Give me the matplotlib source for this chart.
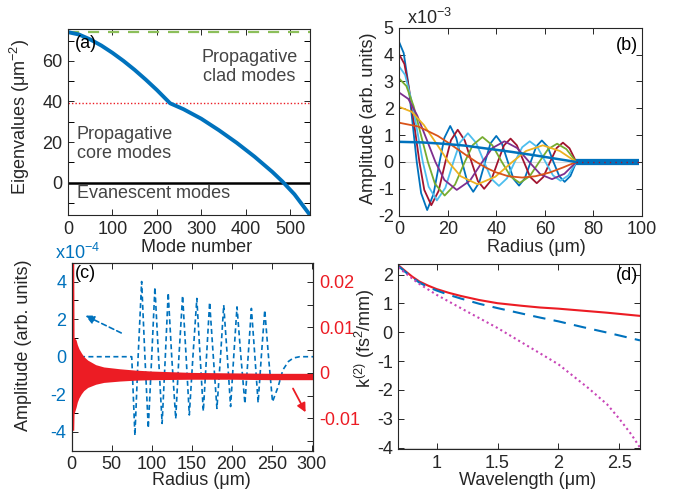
import numpy as np
import matplotlib
matplotlib.use("Agg")
from matplotlib import pyplot as plt
from matplotlib.ticker import MultipleLocator

plt.rcParams['font.family'] = ['Liberation Sans', 'DejaVu Sans']
plt.rcParams['mathtext.fontset'] = 'custom'
plt.rcParams['mathtext.rm'] = 'Liberation Sans'
plt.rcParams['mathtext.it'] = 'Liberation Sans:italic'
plt.rcParams['axes.unicode_minus'] = False
plt.rcParams['font.size'] = 13

BLUE = '#0072BD'
ORANGE = '#D95319'
YELLOW = '#EDB120'
PURPLE = '#7E2F8E'
GREEN = '#77AC30'
CYAN = '#4DBEEE'
DARKRED = '#A2142F'
RED = '#EC1C24'
TXT = '#262626'

# ---- (a) eigenvalues vs mode number
mode_n = [0, 25, 50, 75, 100, 125, 150, 175, 200, 215, 230, 260, 300, 340, 380, 420, 460, 483, 510, 545]
eig_val = [74.2, 73.0, 70.6, 67.6, 64.0, 60.0, 55.6, 50.8, 45.7, 42.4, 39.1, 36.2, 31.5, 25.8, 19.6, 12.8, 5.3, 0.5, -5.8, -16.0]
clad_level = 74.2
core_level = 39.0

# ---- (b) radial mode profiles (x1e-3)
r1 = [0, 9, 18, 27, 36, 46, 55, 64, 73]
v1 = [0.75, 0.73, 0.68, 0.61, 0.50, 0.38, 0.26, 0.13, 0]
r2 = [0, 7.9, 15.9, 19.8, 23.8, 27.8, 31.8, 35.7, 39.7, 44.9, 50.7, 56.2, 62.1, 67.4, 73]
v2 = [1.46, 1.32, 0.97, 0.74, 0.49, 0.24, 0, -0.21, -0.38, -0.53, -0.58, -0.53, -0.39, -0.21, 0]
r3 = [0, 5.1, 10.1, 15.2, 20.3, 25.3, 32.3, 39.6, 46.6, 52.3, 59.2, 66.2, 73]
v3 = [2.05, 1.87, 1.38, 0.70, 0, -0.53, -0.83, -0.55, 0, 0.41, 0.62, 0.41, 0]
r4 = [0, 3.7, 7.4, 11.1, 14.9, 18.6, 23.7, 29.1, 34.2, 38.4, 43.4, 48.6, 53.6, 58.2, 63.0, 68.1, 73]
v4 = [2.58, 2.35, 1.73, 0.88, 0, -0.67, -1.04, -0.70, 0, 0.52, 0.77, 0.52, 0, -0.46, -0.64, -0.44, 0]
r5 = [0, 2.9, 5.9, 8.8, 11.8, 14.7, 18.7, 23.0, 27.0, 30.3, 34.3, 38.4, 42.3, 46.0, 49.7, 53.8, 57.7, 61.4, 65.1, 68.9, 73]
v5 = [3.1, 2.83, 2.08, 1.05, 0, -0.81, -1.25, -0.84, 0, 0.63, 0.93, 0.62, 0, -0.55, -0.78, -0.53, 0, 0.48, 0.68, 0.48, 0]
r6 = [0, 2.4, 4.8, 7.3, 9.7, 12.1, 15.5, 19.0, 22.3, 25.0, 28.3, 31.7, 35.0, 38.0, 41.1, 44.4, 47.6, 50.7,
      53.8, 57.0, 60.3, 63.4, 66.5, 69.7, 73]
v6 = [3.55, 3.24, 2.38, 1.21, 0, -0.92, -1.43, -0.96, 0, 0.72, 1.07, 0.71, 0, -0.63, -0.89, -0.61, 0, 0.55,
      0.77, 0.55, 0, -0.50, -0.70, -0.50, 0]
r7 = [0, 2.1, 4.1, 6.2, 8.3, 10.3, 13.2, 16.2, 19.0, 21.3, 24.1, 27.0, 29.8, 32.4, 35.0, 37.9, 40.6, 43.2,
      45.9, 48.5, 51.4, 54.0, 56.7, 59.4, 62.2, 64.9, 67.5, 70.2, 73]
v7 = [4.0, 3.65, 2.68, 1.36, 0, -1.04, -1.61, -1.08, 0, 0.81, 1.20, 0.80, 0, -0.71, -1.00, -0.68, 0, 0.62,
      0.87, 0.62, 0, -0.56, -0.79, -0.56, 0, 0.52, 0.72, 0.51, 0]
r8 = [0, 1.8, 3.6, 5.4, 7.2, 9.0, 11.5, 14.1, 16.6, 18.6, 21.0, 23.5, 25.9, 28.2, 30.5, 33.0, 35.4, 37.6,
      40.0, 42.3, 44.8, 47.1, 49.4, 51.7, 54.2, 56.5, 58.8, 61.2, 63.6, 66.0, 68.2, 70.6, 73]
v8 = [4.45, 4.06, 2.99, 1.51, 0, -1.16, -1.79, -1.20, 0, 0.90, 1.34, 0.89, 0, -0.79, -1.11, -0.76, 0, 0.69,
      0.97, 0.69, 0, -0.63, -0.88, -0.62, 0, 0.58, 0.80, 0.57, 0, -0.53, -0.74, -0.52, 0]
clad_r = [73, 99]
clad_v = [0, 0]

# ---- (c) cladding mode (blue, x1e-4) and its field (red, right axis)
c_r = [0, 75, 79, 83, 87.4, 91.5, 95.7, 100, 104, 108.5, 113, 117, 120.6, 125, 130, 134, 138.6, 143,
       147, 151.5, 156.4, 160.5, 164.5, 168.5, 172.4, 177, 181.5, 186, 190, 194.5, 198.6, 202.5, 206.6,
       211.5, 216.5, 220.5, 224.6, 229, 233, 237, 241.3, 246, 251, 258, 264, 271, 277, 285, 302]
c_amp = [0, 0, -4.2, 0, 4.0, 0, -3.8, 0, 3.7, 0, -3.55, 0, 3.4, 0, -3.3, 0, 3.25, 0,
         -3.1, 0, 3.1, 0, -2.9, 0, 2.9, 0, -2.75, 0, 2.75, 0, -2.65, 0, 2.65,
         0, -2.5, 0, 2.57, 0, -2.45, 0, 2.48, 0, -2.4, -1.6, -0.7, -0.25, -0.07, 0, 0]
env_r = [0, 2.5, 2.9, 5.5, 7, 9, 12, 15, 20, 30, 40, 60, 80, 100, 150, 200, 250, 302]
env_hi = [0.025, 0.025, 0.0078, 0.0072, 0.0062, 0.0053, 0.0044, 0.0036, 0.0028, 0.0018, 0.0013,
          0.0009, 0.0006, 0.0004, 0.0001, 0.0, -0.0001, -0.0001]
env_lo = [-0.0126, -0.0126, -0.0090, -0.0075, -0.0064, -0.0055, -0.0046, -0.0039, -0.0032, -0.0025,
          -0.0021, -0.0018, -0.0016, -0.0015, -0.0014, -0.0014, -0.0015, -0.0015]

# ---- (d) dispersion
wl_a = [0.685, 0.75, 0.8, 0.86, 0.93, 1.0, 1.1, 1.2, 1.35, 1.5, 1.7, 1.85, 2.0, 2.2, 2.4, 2.67]
k2_red = [2.33, 2.10, 1.93, 1.76, 1.62, 1.50, 1.37, 1.26, 1.12, 1.01, 0.92, 0.86, 0.82, 0.75, 0.68, 0.57]
k2_blue = [2.30, 2.07, 1.90, 1.72, 1.57, 1.45, 1.30, 1.17, 0.99, 0.84, 0.65, 0.51, 0.38, 0.18, -0.01, -0.28]
wl_b = [0.685, 0.85, 1.0, 1.25, 1.5, 1.75, 2.0, 2.25, 2.4, 2.5, 2.6, 2.67]
k2_mag = [2.25, 1.70, 1.30, 0.72, 0.15, -0.48, -1.11, -1.95, -2.5, -3.0, -3.55, -4.0]


def style(ax):
    ax.tick_params(direction='in', top=True, right=True, length=4, width=0.7,
                   colors=TXT, labelsize=13, pad=4)
    ax.tick_params(which='minor', direction='in', top=True, right=True, length=4, width=0.7)
    for s in ax.spines.values():
        s.set_color(TXT)
        s.set_linewidth(0.8)


fig = plt.figure(figsize=(6.93, 4.93), dpi=100)

# (a)
ax = fig.add_axes([0.0981, 0.5639, 0.3492, 0.3767])
ax.axhline(clad_level, color='#8cbf5a', lw=1.6, ls=(0, (5, 4)))
ax.axhline(core_level, color=RED, lw=1.0, ls=(0, (1, 1.5)))
ax.axhline(0, color='black', lw=1.8)
ax.plot(mode_n, eig_val, color=BLUE, lw=2.8, solid_capstyle='butt')
ax.set_xlim(0, 545)
ax.set_ylim(-16, 75.6)
ax.xaxis.set_major_locator(MultipleLocator(100))
ax.yaxis.set_major_locator(MultipleLocator(20))
ax.yaxis.set_minor_locator(MultipleLocator(10))
style(ax)
ax.set_xlabel('Mode number', color=TXT)
ax.set_ylabel('Eigenvalues (μm$^{-2}$)', color=TXT)
ax.xaxis.set_label_coords(0.53, -0.128)
ax.yaxis.set_label_coords(-0.149, 0.53)
ax.text(0.029, 0.925, '(a)', transform=ax.transAxes, va='center', ha='left', color='black')
ax.text(408, 57, 'Propagative\nclad modes', ha='center', va='center', color='#444444', linespacing=1.1)
ax.text(20, 19, 'Propagative\ncore modes', ha='left', va='center', color='#444444', linespacing=1.1)
ax.text(20, -5.2, 'Evanescent modes', ha='left', va='center', color='#444444')

# (b)
ax = fig.add_axes([0.5762, 0.5625, 0.3498, 0.3813])
ax.axhline(0, color='#d9d9d9', lw=0.8, zorder=0)
profiles = [(r8, v8, BLUE), (r7, v7, DARKRED), (r6, v6, CYAN), (r5, v5, GREEN),
            (r4, v4, PURPLE), (r3, v3, YELLOW), (r2, v2, ORANGE)]
for rr, vv, col in profiles:
    ax.plot(rr, vv, color=col, lw=1.3)
ax.plot(r1, v1, color=BLUE, lw=1.8)
ax.plot(clad_r, clad_v, color=BLUE, lw=4.5, solid_capstyle='butt')
ax.plot(clad_r, clad_v, color=DARKRED, lw=1.0, ls=(0, (1, 3)))
ax.set_xlim(0, 100)
ax.set_ylim(-2, 5)
ax.xaxis.set_major_locator(MultipleLocator(20))
ax.yaxis.set_major_locator(MultipleLocator(1))
style(ax)
ax.set_xlabel('Radius (μm)', color=TXT)
ax.set_ylabel('Amplitude (arb. units)', color=TXT)
ax.xaxis.set_label_coords(0.565, -0.122)
ax.yaxis.set_label_coords(-0.092, 0.52)
ax.text(0.03, 1.0, 'x10$^{-3}$', transform=ax.transAxes, va='bottom', ha='left', color=TXT)
ax.text(0.985, 0.908, '(b)', transform=ax.transAxes, va='center', ha='right', color='black')

# (c)
ax = fig.add_axes([0.1035, 0.0858, 0.3486, 0.3813])
ax.plot(c_r, c_amp, color=BLUE, lw=1.2, ls=(0, (3, 2)))
ax.set_xlim(0, 302)
ax.set_ylim(-5, 5)
ax.xaxis.set_major_locator(MultipleLocator(50))
ax.yaxis.set_major_locator(MultipleLocator(2))
ax.yaxis.set_minor_locator(MultipleLocator(1))
style(ax)
ax.tick_params(which='both', right=False)
ax.tick_params(axis='y', labelcolor=BLUE)
ax.annotate('', xy=(14, 2.25), xytext=(65, 1.2),
            arrowprops=dict(arrowstyle='-|>', color=BLUE, lw=1.2, ls=(0, (3, 2)), mutation_scale=13))
ax.set_xlabel('Radius (μm)', color=TXT)
ax.set_ylabel('Amplitude (arb. units)', color=TXT)
ax.xaxis.set_label_coords(0.538, -0.114)
ax.yaxis.set_label_coords(-0.164, 0.56)
ax.text(-0.07, 1.0, 'x10$^{-4}$', transform=ax.transAxes, va='bottom', ha='left', color=BLUE)
ax.text(0.014, 0.944, '(c)', transform=ax.transAxes, va='center', ha='left', color='black')

ax2 = ax.twinx()
ax2.fill_between(env_r, env_lo, env_hi, color=RED, lw=0)
ax2.set_ylim(-0.0171, 0.0242)
ax2.set_yticks([-0.01, 0, 0.01, 0.02])
ax2.set_yticklabels(['-0.01', '0', '0.01', '0.02'])
ax2.yaxis.set_minor_locator(MultipleLocator(0.005))
ax2.tick_params(which='both', direction='in', length=4, width=0.7, colors=TXT,
                labelcolor=RED, labelsize=13, pad=4)
for s in ax2.spines.values():
    s.set_color(TXT)
    s.set_linewidth(0.8)
ax2.annotate('', xy=(294, -0.0092), xytext=(275, -0.0029),
             arrowprops=dict(arrowstyle='-|>', color=RED, lw=1.3, mutation_scale=13))

# (d)
ax = fig.add_axes([0.5747, 0.0892, 0.3488, 0.3753])
ax.axhline(-4, color='#d9d9d9', lw=0.8, zorder=0)
ax.plot(wl_a, k2_red, color=RED, lw=1.5)
ax.plot(wl_a, k2_blue, color=BLUE, lw=1.5, ls=(0, (6, 4)))
ax.plot(wl_b, k2_mag, color='#C845B7', lw=1.5, ls=(0, (1, 1.5)))
ax.set_xlim(0.685, 2.67)
ax.set_ylim(-4.05, 2.37)
ax.set_xticks([1, 1.5, 2, 2.5])
ax.set_xticklabels(['1', '1.5', '2', '2.5'])
ax.yaxis.set_major_locator(MultipleLocator(1))
style(ax)
ax.set_xlabel('Wavelength (μm)', color=TXT)
ax.set_ylabel('k$^{(2)}$ (fs$^2$/mm)', color=TXT)
ax.xaxis.set_label_coords(0.535, -0.122)
ax.yaxis.set_label_coords(-0.086, 0.6)
ax.text(0.993, 0.94, '(d)', transform=ax.transAxes, va='center', ha='right', color='black')

fig.savefig('out.png', dpi=100)
